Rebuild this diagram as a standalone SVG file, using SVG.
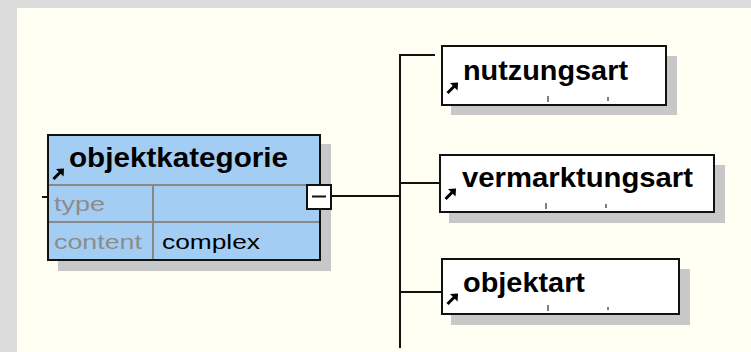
<svg xmlns="http://www.w3.org/2000/svg" width="751" height="352" viewBox="0 0 751 352">
<defs>
<style>
.bg{fill:#dcdcdc}
.canvas{fill:#fffff4}
.shadow{fill:#c8c8c8}
.box{fill:#ffffff;stroke:#111;stroke-width:2}
.main{fill:#a4cdf4;stroke:#111;stroke-width:2}
.grid{stroke:#888;stroke-width:2;fill:none}
.conn{stroke:#111;stroke-width:2;fill:none}
.tick{stroke:#555;stroke-width:1.5}
.lbl{font-family:"Liberation Sans",Arial,sans-serif;font-weight:bold;font-size:27px;fill:#000}
.attr{font-family:"Liberation Sans",Arial,sans-serif;font-size:21px;fill:#8c8c8c}
.val{font-family:"Liberation Sans",Arial,sans-serif;font-size:21px;fill:#000}
</style>
<g id="ref-icon">
<path d="M0.5,11 L8,3.5" stroke="#000" stroke-width="3"/>
<path d="M3,1 L11,0.5 L10.5,8.5 Z" fill="#000"/>
</g>
</defs>
<rect class="bg" x="0" y="0" width="751" height="352"/>
<rect class="canvas" x="17" y="8" width="734" height="344"/>

<g id="connectors">
<line class="conn" x1="42" y1="197" x2="48" y2="197"/>
<line class="conn" x1="332" y1="196" x2="400" y2="196"/>
<line class="conn" x1="400" y1="54" x2="400" y2="348"/>
<line class="conn" x1="399" y1="55" x2="435" y2="55"/>
<line class="conn" x1="400" y1="183" x2="441" y2="183"/>
<line class="conn" x1="400" y1="292" x2="441" y2="292"/>
</g>

<g id="objektkategorie">
<rect class="shadow" x="58" y="144" width="273" height="127"/>
<rect class="main" x="48" y="135" width="272" height="125"/>
<line class="grid" x1="49" y1="185" x2="319" y2="185"/>
<line class="grid" x1="49" y1="222" x2="319" y2="222"/>
<line class="grid" x1="153" y1="186" x2="153" y2="259"/>
<use href="#ref-icon" x="53" y="168"/>
<text class="lbl" x="69" y="167" textLength="219" lengthAdjust="spacingAndGlyphs">objektkategorie</text>
<text class="attr" x="54" y="211" textLength="51" lengthAdjust="spacingAndGlyphs">type</text>
<text class="attr" x="54" y="249" textLength="88" lengthAdjust="spacingAndGlyphs">content</text>
<text class="val" x="162" y="249" textLength="98" lengthAdjust="spacingAndGlyphs">complex</text>
<rect class="box" x="307" y="185" width="24" height="24"/>
<line class="conn" x1="312" y1="196.5" x2="326" y2="196.5"/>
</g>

<g id="nutzungsart">
<rect class="shadow" x="451" y="56" width="226" height="59"/>
<rect class="box" x="442" y="46" width="224" height="59"/>
<use href="#ref-icon" x="447" y="82"/>
<text class="lbl" x="463" y="80" textLength="165" lengthAdjust="spacingAndGlyphs">nutzungsart</text>
<line class="tick" x1="548" y1="96" x2="548" y2="102"/>
<line class="tick" x1="608" y1="97" x2="608" y2="101"/>
</g>

<g id="vermarktungsart">
<rect class="shadow" x="449" y="165" width="276" height="58"/>
<rect class="box" x="440" y="155" width="274" height="57"/>
<use href="#ref-icon" x="445" y="188"/>
<text class="lbl" x="462" y="187" textLength="231" lengthAdjust="spacingAndGlyphs">vermarktungsart</text>
<line class="tick" x1="546" y1="203" x2="546" y2="209"/>
<line class="tick" x1="606" y1="204" x2="606" y2="208"/>
</g>

<g id="objektart">
<rect class="shadow" x="451" y="269" width="239" height="56"/>
<rect class="box" x="442" y="259" width="237" height="55"/>
<use href="#ref-icon" x="447" y="293"/>
<text class="lbl" x="463" y="292" textLength="122" lengthAdjust="spacingAndGlyphs">objektart</text>
<line class="tick" x1="548" y1="305" x2="548" y2="311"/>
<line class="tick" x1="608" y1="307" x2="608" y2="310"/>
</g>
</svg>
